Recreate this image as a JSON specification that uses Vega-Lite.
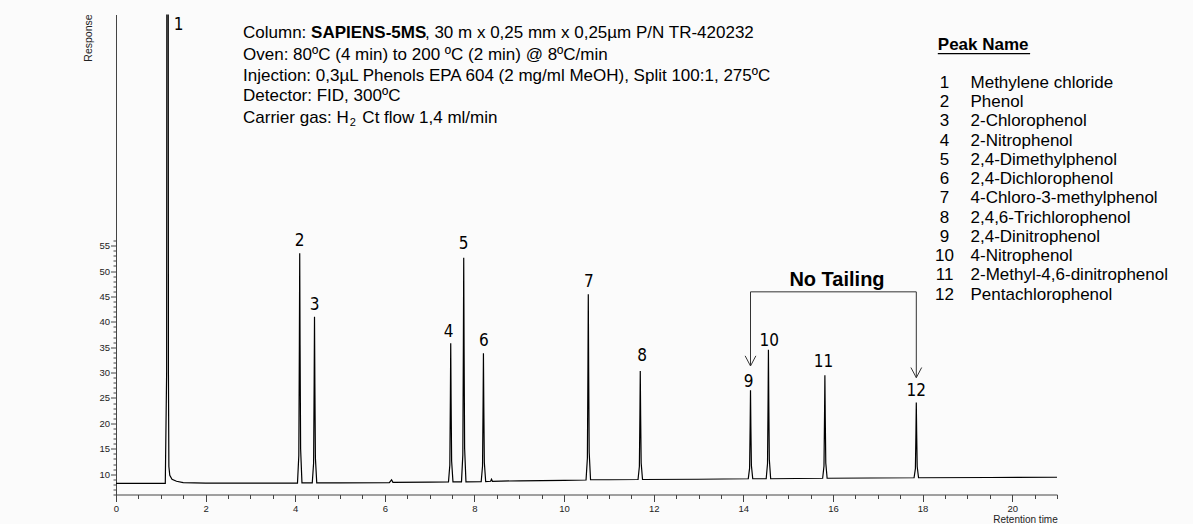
{
  "$schema": "https://vega.github.io/schema/vega-lite/v6.json",
  "width": 941,
  "height": 480,
  "autosize": {"type": "none"},
  "padding": {"left": 116, "top": 14.5, "right": 136, "bottom": 29.5},
  "background": "#fbfbfb",
  "config": {
    "view": {"stroke": null},
    "axis": {"grid": false, "domainColor": "#444", "tickColor": "#444", "labelColor": "#222", "labelFont": "Liberation Sans", "titleFont": "Liberation Sans", "titleColor": "#222", "titleFontWeight": "normal"},
    "text": {"font": "Liberation Sans"}
  },
  "datasets": {
    "signal": [
      {"t": 0, "r": 8.2}, {"t": 1.1, "r": 8.2}, {"t": 1.13, "r": 30}, {"t": 1.14, "r": 200}, {"t": 1.16, "r": 200}, {"t": 1.17, "r": 30}, {"t": 1.18, "r": 11.5}, {"t": 1.2, "r": 9.8}, {"t": 1.25, "r": 9.0}, {"t": 1.35, "r": 8.6}, {"t": 1.5, "r": 8.35}, {"t": 2.0, "r": 8.25}, {"t": 3.0, "r": 8.25},
      {"t": 4.05, "r": 8.25}, {"t": 4.08, "r": 13.7}, {"t": 4.092, "r": 35.4}, {"t": 4.1, "r": 53.5}, {"t": 4.108, "r": 35.4}, {"t": 4.12, "r": 15.0}, {"t": 4.15, "r": 8.3},
      {"t": 4.38, "r": 8.3}, {"t": 4.41, "r": 12.2}, {"t": 4.422, "r": 27.9}, {"t": 4.43, "r": 41.0}, {"t": 4.438, "r": 27.9}, {"t": 4.45, "r": 13.2}, {"t": 4.48, "r": 8.3},
      {"t": 5.0, "r": 8.3}, {"t": 6.1, "r": 8.35}, {"t": 6.15, "r": 8.9}, {"t": 6.18, "r": 8.4}, {"t": 7.0, "r": 8.45},
      {"t": 7.42, "r": 8.5}, {"t": 7.45, "r": 11.8}, {"t": 7.462, "r": 24.9}, {"t": 7.47, "r": 35.8}, {"t": 7.478, "r": 24.9}, {"t": 7.49, "r": 12.6}, {"t": 7.52, "r": 8.5},
      {"t": 7.71, "r": 8.5}, {"t": 7.74, "r": 13.8}, {"t": 7.752, "r": 35.0}, {"t": 7.76, "r": 52.6}, {"t": 7.768, "r": 35.0}, {"t": 7.78, "r": 15.1}, {"t": 7.81, "r": 8.5},
      {"t": 8.15, "r": 8.55}, {"t": 8.18, "r": 11.6}, {"t": 8.192, "r": 23.7}, {"t": 8.2, "r": 33.8}, {"t": 8.208, "r": 23.7}, {"t": 8.22, "r": 12.3}, {"t": 8.25, "r": 8.55},
      {"t": 8.36, "r": 8.6}, {"t": 8.38, "r": 9.0}, {"t": 8.4, "r": 8.6}, {"t": 9.0, "r": 8.7}, {"t": 10.0, "r": 8.8},
      {"t": 10.49, "r": 8.85}, {"t": 10.52, "r": 13.2}, {"t": 10.532, "r": 30.8}, {"t": 10.54, "r": 45.4}, {"t": 10.548, "r": 30.8}, {"t": 10.56, "r": 14.3}, {"t": 10.59, "r": 8.9},
      {"t": 11.0, "r": 8.9},
      {"t": 11.65, "r": 8.95}, {"t": 11.68, "r": 11.5}, {"t": 11.692, "r": 21.8}, {"t": 11.7, "r": 30.3}, {"t": 11.708, "r": 21.8}, {"t": 11.72, "r": 12.2}, {"t": 11.75, "r": 8.95},
      {"t": 13.0, "r": 9.0},
      {"t": 14.11, "r": 9.1}, {"t": 14.14, "r": 11.2}, {"t": 14.152, "r": 19.5}, {"t": 14.16, "r": 26.5}, {"t": 14.168, "r": 19.5}, {"t": 14.18, "r": 11.7}, {"t": 14.21, "r": 9.1},
      {"t": 14.51, "r": 9.1}, {"t": 14.54, "r": 12.1}, {"t": 14.552, "r": 24.3}, {"t": 14.56, "r": 34.5}, {"t": 14.568, "r": 24.3}, {"t": 14.58, "r": 12.9}, {"t": 14.61, "r": 9.1},
      {"t": 15.77, "r": 9.2}, {"t": 15.8, "r": 11.6}, {"t": 15.812, "r": 21.4}, {"t": 15.82, "r": 29.5}, {"t": 15.828, "r": 21.4}, {"t": 15.84, "r": 12.2}, {"t": 15.87, "r": 9.2},
      {"t": 17.81, "r": 9.3}, {"t": 17.84, "r": 11.1}, {"t": 17.852, "r": 18.2}, {"t": 17.86, "r": 24.1}, {"t": 17.868, "r": 18.2}, {"t": 17.88, "r": 11.5}, {"t": 17.91, "r": 9.3},
      {"t": 19.5, "r": 9.35}, {"t": 21.0, "r": 9.4}
    ],
    "peakLabels": [
      {"t": 1.4, "r": 98.5, "text": "1"},
      {"t": 4.1, "r": 55.9, "text": "2"},
      {"t": 4.43, "r": 43.4, "text": "3"},
      {"t": 7.42, "r": 38.0, "text": "4"},
      {"t": 7.76, "r": 55.4, "text": "5"},
      {"t": 8.21, "r": 36.2, "text": "6"},
      {"t": 10.55, "r": 47.9, "text": "7"},
      {"t": 11.74, "r": 33.2, "text": "8"},
      {"t": 14.12, "r": 28.2, "text": "9"},
      {"t": 14.58, "r": 36.3, "text": "10"},
      {"t": 15.79, "r": 32.0, "text": "11"},
      {"t": 17.86, "r": 26.3, "text": "12"}
    ],
    "bracket": [
      {"t": 14.16, "t2": 17.86, "r": 45.9, "r2": 45.9},
      {"t": 14.16, "t2": 14.16, "r": 45.9, "r2": 31.3},
      {"t": 17.86, "t2": 17.86, "r": 45.9, "r2": 29.0},
      {"t": 14.04, "t2": 14.16, "r": 33.3, "r2": 31.3},
      {"t": 14.28, "t2": 14.16, "r": 33.3, "r2": 31.3},
      {"t": 17.74, "t2": 17.86, "r": 31.0, "r2": 29.0},
      {"t": 17.98, "t2": 17.86, "r": 31.0, "r2": 29.0}
    ],
    "underline": [{"t": 18.34, "t2": 20.4, "r": 92.8, "r2": 92.8}],
    "infoText": [
      {"t": 2.835, "r": 96.76, "text": "Column:"},
      {"t": 6.895, "r": 96.76, "text": ", 30 m x 0,25 mm x 0,25µm P/N TR-420232"},
      {"t": 2.835, "r": 92.62, "text": "Oven: 80ºC (4 min) to 200 ºC (2 min) @ 8ºC/min"},
      {"t": 2.835, "r": 88.49, "text": "Injection: 0,3µL Phenols EPA 604 (2 mg/ml MeOH), Split 100:1, 275ºC"},
      {"t": 2.835, "r": 84.36, "text": "Detector: FID, 300ºC"},
      {"t": 2.835, "r": 80.22, "text": "Carrier gas: H"},
      {"t": 5.498, "r": 80.22, "text": "Ct flow 1,4 ml/min"},
      {"t": 19.07, "r": 87.05, "text": "Methylene chloride"},
      {"t": 19.07, "r": 83.26, "text": "Phenol"},
      {"t": 19.07, "r": 79.47, "text": "2-Chlorophenol"},
      {"t": 19.07, "r": 75.68, "text": "2-Nitrophenol"},
      {"t": 19.07, "r": 71.89, "text": "2,4-Dimethylphenol"},
      {"t": 19.07, "r": 68.10, "text": "2,4-Dichlorophenol"},
      {"t": 19.07, "r": 64.31, "text": "4-Chloro-3-methylphenol"},
      {"t": 19.07, "r": 60.52, "text": "2,4,6-Trichlorophenol"},
      {"t": 19.07, "r": 56.73, "text": "2,4-Dinitrophenol"},
      {"t": 19.07, "r": 52.94, "text": "4-Nitrophenol"},
      {"t": 19.07, "r": 49.15, "text": "2-Methyl-4,6-dinitrophenol"},
      {"t": 19.07, "r": 45.36, "text": "Pentachlorophenol"}
    ],
    "legendNums": [
      {"t": 18.49, "r": 87.05, "text": "1"},
      {"t": 18.49, "r": 83.26, "text": "2"},
      {"t": 18.49, "r": 79.47, "text": "3"},
      {"t": 18.49, "r": 75.68, "text": "4"},
      {"t": 18.49, "r": 71.89, "text": "5"},
      {"t": 18.49, "r": 68.10, "text": "6"},
      {"t": 18.49, "r": 64.31, "text": "7"},
      {"t": 18.49, "r": 60.52, "text": "8"},
      {"t": 18.49, "r": 56.73, "text": "9"},
      {"t": 18.49, "r": 52.94, "text": "10"},
      {"t": 18.49, "r": 49.15, "text": "11"},
      {"t": 18.49, "r": 45.36, "text": "12"}
    ],
    "boldText": [
      {"t": 4.353, "r": 96.76, "text": "SAPIENS-5MS"},
      {"t": 18.34, "r": 94.4, "text": "Peak Name"}
    ],
    "noTailing": [{"t": 16.09, "r": 48.3, "text": "No Tailing"}],
    "sub": [{"t": 5.219, "r": 79.2, "text": "2"}]
  },
  "resolve": {"axis": {"x": "independent", "y": "independent"}},
  "layer": [
    {
      "data": {"name": "signal"},
      "mark": {"type": "line", "color": "#000", "strokeWidth": 1.2, "clip": true},
      "encoding": {
        "x": {"field": "t", "type": "quantitative", "scale": {"domain": [0, 21], "nice": false, "zero": false},
          "axis": {"values": [0, 2, 4, 6, 8, 10, 12, 14, 16, 18, 20], "format": "d", "tickSize": 7, "labelPadding": 2, "labelFontSize": 9.5, "labelFlush": false, "title": "Retention time", "titleX": 909, "titleY": 25, "titleAlign": "center", "titleBaseline": "middle", "titleFontSize": 10}},
        "y": {"field": "r", "type": "quantitative", "scale": {"domain": [6, 100.5], "nice": false, "zero": false},
          "axis": {"values": [10, 15, 20, 25, 30, 35, 40, 45, 50, 55], "tickSize": 5.5, "labelPadding": 1, "labelFontSize": 9.5, "labelFlush": false, "title": "Response", "titleAngle": 270, "titleX": -27.5, "titleY": 23, "titleAlign": "center", "titleBaseline": "middle", "titleFontSize": 10.5}}
      }
    },
    {
      "data": {"name": "bracket"},
      "mark": {"type": "rule", "color": "#333", "strokeWidth": 1},
      "encoding": {
        "x": {"field": "t", "type": "quantitative",
          "axis": {"values": [0.5, 1, 1.5, 2.5, 3, 3.5, 4.5, 5, 5.5, 6.5, 7, 7.5, 8.5, 9, 9.5, 10.5, 11, 11.5, 12.5, 13, 13.5, 14.5, 15, 15.5, 16.5, 17, 17.5, 18.5, 19, 19.5, 20.5, 21], "labels": false, "tickSize": 4, "domain": false, "title": null, "orient": "bottom"}},
        "x2": {"field": "t2"},
        "y": {"field": "r", "type": "quantitative",
          "axis": {"values": [6, 7, 8, 9, 11, 12, 13, 14, 16, 17, 18, 19, 21, 22, 23, 24, 26, 27, 28, 29, 31, 32, 33, 34, 36, 37, 38, 39, 41, 42, 43, 44, 46, 47, 48, 49, 51, 52, 53, 54, 56], "labels": false, "tickSize": 3, "domain": false, "title": null, "orient": "left"}},
        "y2": {"field": "r2"}
      }
    },
    {
      "data": {"name": "underline"},
      "mark": {"type": "rule", "color": "#000", "strokeWidth": 1.2},
      "encoding": {
        "x": {"field": "t", "type": "quantitative", "axis": null},
        "x2": {"field": "t2"},
        "y": {"field": "r", "type": "quantitative", "axis": null},
        "y2": {"field": "r2"}
      }
    },
    {
      "data": {"name": "peakLabels"},
      "mark": {"type": "text", "font": "DejaVu Sans Condensed, Liberation Sans", "fontSize": 17, "color": "#000", "align": "center", "baseline": "middle"},
      "encoding": {
        "x": {"field": "t", "type": "quantitative", "axis": null},
        "y": {"field": "r", "type": "quantitative", "axis": null},
        "text": {"field": "text"}
      }
    },
    {
      "data": {"name": "infoText"},
      "mark": {"type": "text", "fontSize": 17, "color": "#000", "align": "left", "baseline": "middle"},
      "encoding": {
        "x": {"field": "t", "type": "quantitative", "axis": null},
        "y": {"field": "r", "type": "quantitative", "axis": null},
        "text": {"field": "text"}
      }
    },
    {
      "data": {"name": "legendNums"},
      "mark": {"type": "text", "fontSize": 17, "color": "#000", "align": "center", "baseline": "middle"},
      "encoding": {
        "x": {"field": "t", "type": "quantitative", "axis": null},
        "y": {"field": "r", "type": "quantitative", "axis": null},
        "text": {"field": "text"}
      }
    },
    {
      "data": {"name": "boldText"},
      "mark": {"type": "text", "fontSize": 17, "fontWeight": "bold", "color": "#000", "align": "left", "baseline": "middle"},
      "encoding": {
        "x": {"field": "t", "type": "quantitative", "axis": null},
        "y": {"field": "r", "type": "quantitative", "axis": null},
        "text": {"field": "text"}
      }
    },
    {
      "data": {"name": "noTailing"},
      "mark": {"type": "text", "fontSize": 20, "fontWeight": "bold", "color": "#000", "align": "center", "baseline": "middle"},
      "encoding": {
        "x": {"field": "t", "type": "quantitative", "axis": null},
        "y": {"field": "r", "type": "quantitative", "axis": null},
        "text": {"field": "text"}
      }
    },
    {
      "data": {"name": "sub"},
      "mark": {"type": "text", "fontSize": 11, "color": "#000", "align": "left", "baseline": "middle"},
      "encoding": {
        "x": {"field": "t", "type": "quantitative", "axis": null},
        "y": {"field": "r", "type": "quantitative", "axis": null},
        "text": {"field": "text"}
      }
    }
  ]
}
